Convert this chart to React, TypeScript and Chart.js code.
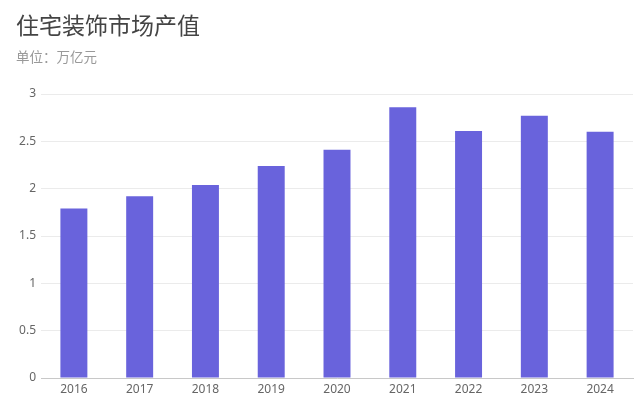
import React, { useEffect, useRef } from "react";
import { Chart, registerables } from "chart.js";

Chart.register(...registerables);

const titleText = "住宅装饰市场产值";
const subtitleText = "单位：万亿元";
const years = ["2016", "2017", "2018", "2019", "2020", "2021", "2022", "2023", "2024"];
const values = [1.79, 1.92, 2.04, 2.24, 2.41, 2.86, 2.61, 2.77, 2.6];

const FONT = "'Noto Sans', 'Noto Sans CJK SC', sans-serif";

export default function App() {
  const ref = useRef<HTMLCanvasElement | null>(null);
  useEffect(() => {
    if (!ref.current) return;
    const chart = new Chart(ref.current, {
      type: "bar",
      data: {
        labels: years,
        datasets: [
          {
            data: values,
            backgroundColor: "#6963dc",
            borderWidth: 0,
            categoryPercentage: 1,
            barPercentage: 0.41,
          },
        ],
      },
      options: {
        animation: false,
        responsive: false,
        maintainAspectRatio: false,
        layout: { padding: { left: 16, right: 7, top: 0, bottom: 0 } },
        plugins: {
          legend: { display: false },
          tooltip: { enabled: false },
          title: {
            display: true,
            text: titleText,
            align: "start",
            color: "#444444",
            font: { family: FONT, size: 23, weight: "normal" },
            padding: { top: 14, bottom: 6 },
          },
          subtitle: {
            display: true,
            text: subtitleText,
            align: "start",
            color: "#999999",
            font: { family: FONT, size: 13.5, weight: "normal" },
            padding: { top: 2.8, bottom: 27.4 },
          },
        },
        scales: {
          x: {
            afterFit: (scale: any) => {
              scale.height = 20;
            },
            grid: { display: false, drawTicks: false },
            border: { display: true, color: "#c8c8c8", width: 1 },
            ticks: { color: "#666666", font: { family: FONT, size: 12 }, padding: 4 },
          },
          y: {
            min: 0,
            max: 3,
            afterFit: (scale: any) => {
              scale.width = 25;
            },
            grid: { color: "#ebebeb", drawTicks: false },
            border: { display: false },
            ticks: {
              stepSize: 0.5,
              color: "#666666",
              font: { family: FONT, size: 12 },
              padding: 5,
              callback: (v: any) => String(Number(v)),
            },
          },
        },
      },
    });
    return () => chart.destroy();
  }, []);
  return (
    <div style={{ position: "absolute", left: 0, top: 0, width: 640, height: 398, background: "#ffffff" }}>
      <canvas ref={ref} width={640} height={398} style={{ display: "block", width: 640, height: 398 }} />
    </div>
  );
}
